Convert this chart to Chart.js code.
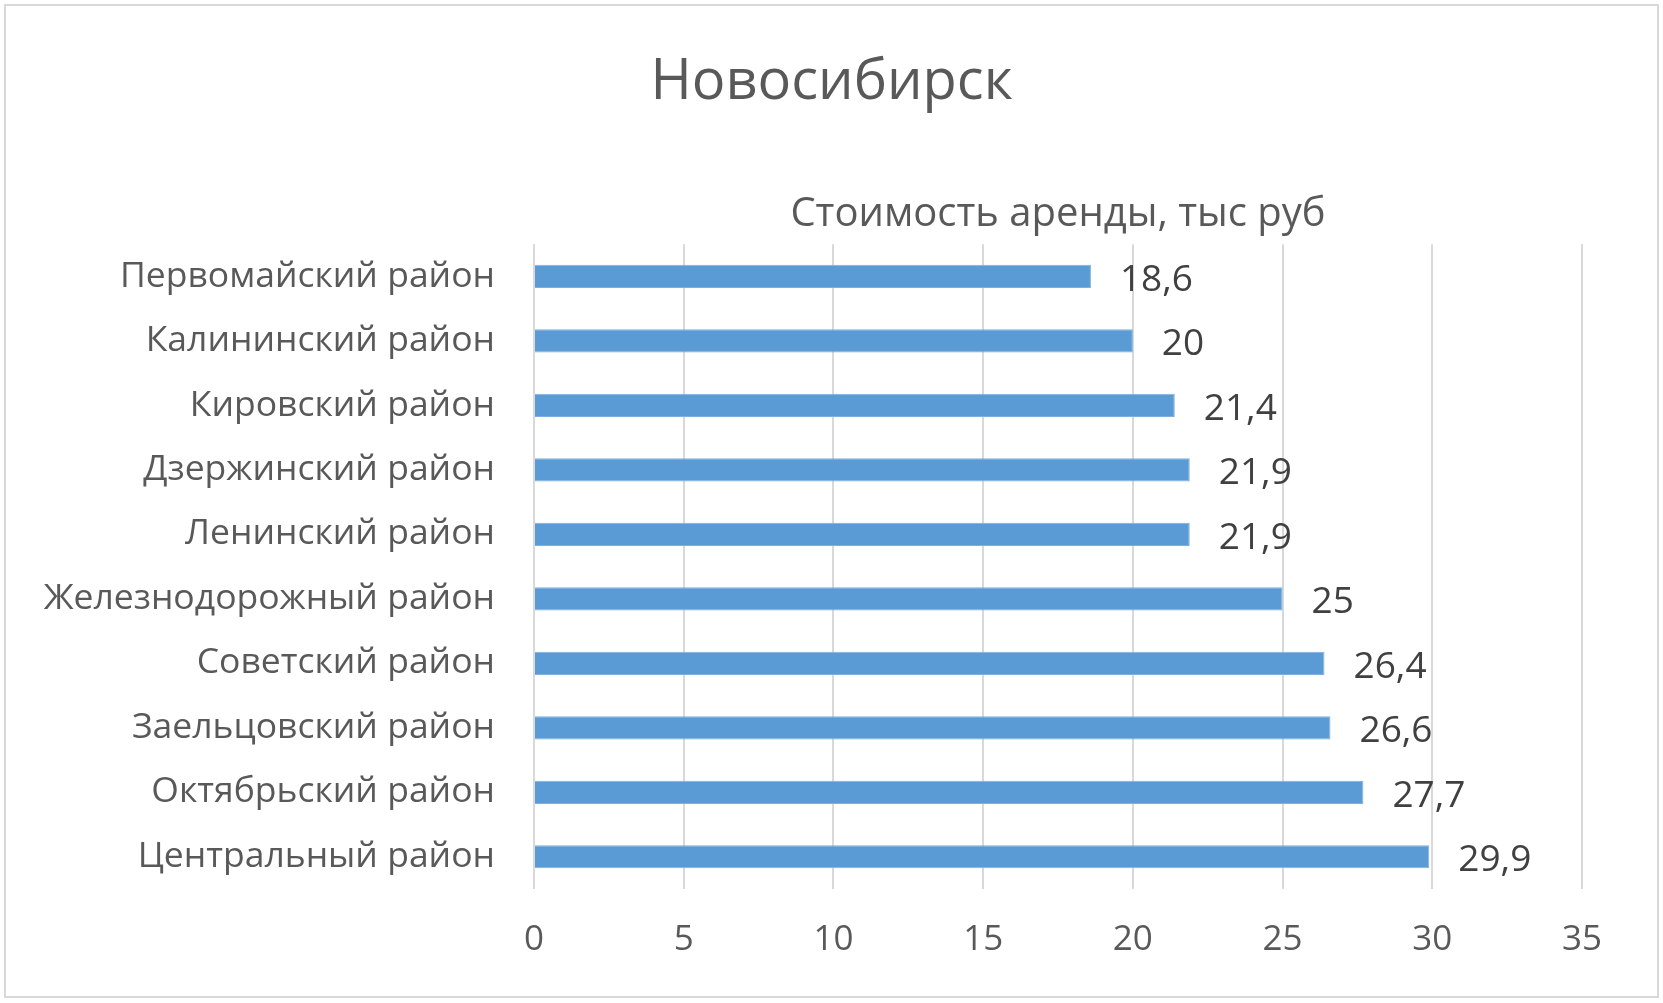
<!DOCTYPE html>
<html>
<head>
<meta charset="utf-8">
<script src="https://cdn.jsdelivr.net/npm/chart.js@4"></script>
<style>
  body { margin: 0; background: #fff; }
  #wrap { position: relative; width: 1663px; height: 1003px; }
  #frame { position: absolute; left: 4px; top: 4px; width: 1651px; height: 990px; border: 2px solid #d9d9d9; pointer-events: none; }
</style>
</head>
<body>
<div id="wrap">
  <canvas id="rentChart" width="1663" height="1003"></canvas>
  <div id="frame"></div>
</div>
<script>
const districts = [
  "Первомайский район",
  "Калининский район",
  "Кировский район",
  "Дзержинский район",
  "Ленинский район",
  "Железнодорожный район",
  "Советский район",
  "Заельцовский район",
  "Октябрьский район",
  "Центральный район"
];
const rentValues = [18.6, 20, 21.4, 21.9, 21.9, 25, 26.4, 26.6, 27.7, 29.9];
const seriesName = "Стоимость аренды, тыс руб";
const chartTitle = "Новосибирск";

const FONT = "'Open Sans', sans-serif";

// value labels at the end of each bar (decimal comma, like the original)
const barLabels = {
  id: 'barLabels',
  afterDatasetsDraw(chart) {
    const ctx = chart.ctx;
    const meta = chart.getDatasetMeta(0);
    ctx.save();
    ctx.font = "37px " + FONT;
    ctx.fillStyle = "#404040";
    ctx.textAlign = "left";
    ctx.textBaseline = "middle";
    meta.data.forEach((bar, i) => {
      const txt = String(rentValues[i]).replace('.', ',');
      ctx.fillText(txt, bar.x + 29, bar.y + 4);
    });
    ctx.restore();
  }
};

const ctx = document.getElementById('rentChart').getContext('2d');
new Chart(ctx, {
  type: 'bar',
  data: {
    labels: districts,
    datasets: [{
      label: seriesName,
      data: rentValues,
      backgroundColor: '#5B9BD5',
      borderColor: '#7eb0df',
      borderWidth: 1,
      categoryPercentage: 1,
      barPercentage: 0.36
    }]
  },
  options: {
    indexAxis: 'y',
    responsive: false,
    animation: false,
    layout: { padding: 0 },
    plugins: {
      legend: { display: false },
      tooltip: { enabled: false },
      title: {
        display: true,
        text: chartTitle,
        color: '#595959',
        font: { family: FONT, size: 56, weight: 'normal', lineHeight: 1.2 },
        padding: { top: 49, bottom: 0 }
      },
      subtitle: {
        display: true,
        text: seriesName,
        fullSize: false,
        color: '#595959',
        font: { family: FONT, size: 40, weight: 'normal', lineHeight: 1.2 },
        padding: { top: 74, bottom: 6 }
      }
    },
    scales: {
      x: {
        min: 0,
        max: 35,
        afterFit: (s) => { s.height = 114; },
        border: { display: false },
        grid: { color: '#d9d9d9', lineWidth: 2, drawTicks: false },
        ticks: {
          stepSize: 5,
          padding: 30,
          color: '#595959',
          font: { family: FONT, size: 35 },
          callback: (v) => v
        }
      },
      y: {
        afterFit: (s) => { s.width = 534; },
        border: { display: false },
        grid: { display: false, drawTicks: false },
        ticks: {
          padding: 39,
          color: '#595959',
          font: { family: FONT, size: 35.5 }
        }
      },
      // empty right-hand strip so the plot ends where the original does
      spacer: {
        axis: 'y',
        position: 'right',
        display: true,
        afterFit: (s) => { s.width = 81; },
        border: { display: false },
        grid: { display: false, drawTicks: false },
        ticks: { display: false }
      }
    }
  },
  plugins: [barLabels]
});
</script>
</body>
</html>
